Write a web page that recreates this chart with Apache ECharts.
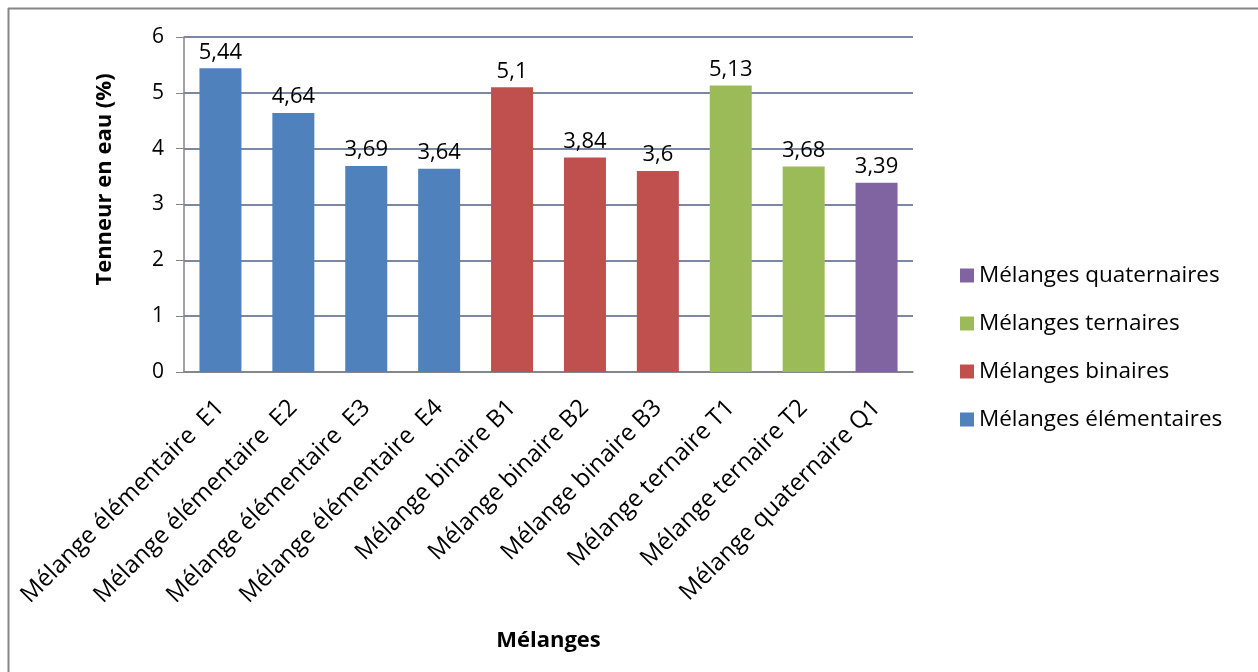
<!DOCTYPE html>
<html><head><meta charset="utf-8">
<script src="https://cdn.jsdelivr.net/npm/echarts@6/dist/echarts.min.js"></script>
<style>html,body{margin:0;padding:0;background:#fff}#c{width:1258px;height:672px}</style>
</head><body><div id="c"></div>
<script>
const categories = ["Mélange élémentaire  E1","Mélange élémentaire  E2","Mélange élémentaire  E3","Mélange élémentaire  E4","Mélange binaire B1","Mélange binaire B2","Mélange binaire B3","Mélange ternaire T1","Mélange ternaire T2","Mélange quaternaire Q1"];
const elementaires = [5.44,4.64,3.69,3.64,null,null,null,null,null,null];
const binaires = [null,null,null,null,5.1,3.84,3.6,null,null,null];
const ternaires = [null,null,null,null,null,null,null,5.13,3.68,null];
const quaternaires = [null,null,null,null,null,null,null,null,null,3.39];
const yTicks = [0,1,2,3,4,5,6];
const seriesNames = ["Mélanges élémentaires","Mélanges binaires","Mélanges ternaires","Mélanges quaternaires"];

const FONT = "Open Sans";
const chart = echarts.init(document.getElementById('c'));
function mk(name, data, color){
  return {name, type:'bar', stack:'s', data, barWidth:42,
    itemStyle:{color},
    label:{show:true, position:'top', distance:5, color:'#000', fontFamily:FONT, fontSize:22,
      formatter:p=>String(p.value).replace('.',',')}};
}
chart.setOption({
  animation:false,
  textStyle:{fontFamily:FONT},
  graphic:[
    {type:'line', shape:{x1:8,y1:8.5,x2:1258,y2:8.5}, style:{stroke:'#868686',lineWidth:2}},
    {type:'line', shape:{x1:8.5,y1:8,x2:8.5,y2:672}, style:{stroke:'#868686',lineWidth:2}}
  ],
  grid:{left:184, right:345, top:37, bottom:300},
  legend:{
    data:[seriesNames[3],seriesNames[2],seriesNames[1],seriesNames[0]],
    orient:'vertical', left:955, top:259, itemGap:25, itemWidth:14, itemHeight:14,
    icon:'rect', textStyle:{fontFamily:FONT, fontSize:22.5, color:'#000'}
  },
  xAxis:{type:'category', data:categories,
    axisLine:{lineStyle:{color:'#868686', width:1.5}},
    axisTick:{show:false},
    axisLabel:{rotate:45, interval:0, fontFamily:FONT, fontSize:24, color:'#000', margin:32},
    name:'Mélanges', nameLocation:'middle', nameGap:258,
    nameTextStyle:{fontFamily:FONT, fontSize:22, fontWeight:'bold', color:'#000'}
  },
  yAxis:{type:'value', min:yTicks[0], max:yTicks[yTicks.length-1], interval:1,
    axisLine:{show:true, lineStyle:{color:'#868686', width:1.5}},
    axisTick:{show:true, length:8, lineStyle:{color:'#868686'}},
    splitLine:{lineStyle:{color:'#4f6180', width:1.5}},
    axisLabel:{fontFamily:FONT, fontSize:21, color:'#000', margin:20},
    name:'Tenneur en eau (%)', nameLocation:'middle', nameGap:68,
    nameTextStyle:{fontFamily:FONT, fontSize:22, fontWeight:'bold', color:'#000', padding:[0,0,0,50]}
  },
  series:[
    mk(seriesNames[0], elementaires, '#4f81bd'),
    mk(seriesNames[1], binaires, '#c0504d'),
    mk(seriesNames[2], ternaires, '#9bbb59'),
    mk(seriesNames[3], quaternaires, '#8064a2')
  ]
});
</script></body></html>
